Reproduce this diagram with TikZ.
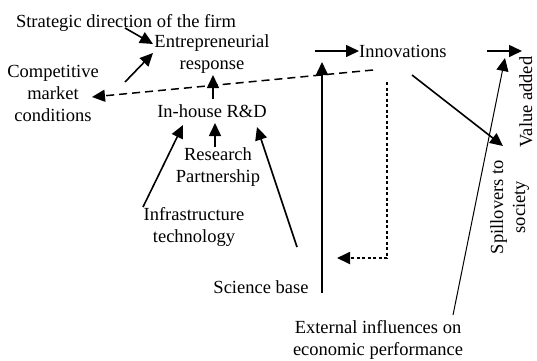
\documentclass[tikz,border=0pt]{standalone}
\usepackage{fontspec}
\setmainfont{Liberation Serif}
\usetikzlibrary{arrows.meta}
\begin{document}
\begin{tikzpicture}[x=1pt,y=-1pt,
  lbl/.style={inner sep=0pt, font=\fontsize{18.5}{22}\selectfont, anchor=base, align=center},
  arr/.style={line width=1.6pt, -{Triangle[length=13pt,width=12pt]}},
  thin/.style={line width=1pt, -{Triangle[length=13pt,width=12pt]}}]
\useasboundingbox (0,0) rectangle (537,360);
% text nodes (anchor = base of last line)
\node[lbl] (strat) at (126,27) {Strategic direction of the firm};
\node[lbl] (entre) at (212,69) {Entrepreneurial\\response};
\node[lbl] (comp) at (53,121) {Competitive\\market\\conditions};
\node[lbl] (inh) at (212,117) {In-house R\&D};
\node[lbl] (rp) at (218,182) {Research\\Partnership};
\node[lbl] (infra) at (194,242) {Infrastructure\\technology};
\node[lbl] (sci) at (261,293) {Science base};
\node[lbl, anchor=base west] (innov) at (359,57) {Innovations};
\node[lbl] (ext) at (378,355) {External influences on\\economic performance};
\node[lbl, rotate=90, anchor=base] (val) at (532,102) {Value added};
\node[lbl, rotate=90, anchor=base] (spill) at (525,207) {Spillovers to\\society};
% connectors
\coordinate (s1) at (125,28);
\coordinate (e1) at (153,44);
\draw[arr] (s1) -- (e1);
\coordinate (c1) at (125,82);
\coordinate (e2) at (153,53);
\draw[arr] (c1) -- (e2);
\coordinate (i1) at (373,70);
\coordinate (c2) at (92,97);
\draw[line width=1.5pt, dash pattern=on 8pt off 5pt, -{Triangle[length=13pt,width=12pt]}] (i1) -- (c2);
\coordinate (h1) at (213,99);
\coordinate (e3) at (213,75);
\draw[arr] (h1) -- (e3);
\coordinate (r1) at (215,147);
\coordinate (h2) at (215,123);
\draw[arr] (r1) -- (h2);
\coordinate (f1) at (143,207);
\coordinate (h3) at (183,125);
\draw[arr] (f1) -- (h3);
\coordinate (b1) at (297,247);
\coordinate (h4) at (257,127);
\draw[arr] (b1) -- (h4);
\coordinate (v0) at (322,293);
\coordinate (v1) at (322,62);
\draw[arr] (v0) -- (v1);
\coordinate (n0) at (315,51);
\draw[arr] (n0) -- (innov.west |- n0);
\coordinate (d0) at (387,82);
\coordinate (d1) at (387,258);
\coordinate (d2) at (337,258);
\draw[line width=1.8pt, dash pattern=on 3pt off 2.5pt, -{Triangle[length=13pt,width=12pt]}] (d0) -- (d1) -- (d2);
\coordinate (o0) at (412,75);
\coordinate (o1) at (503,146);
\draw[arr] (o0) -- (o1);
\coordinate (x0) at (453,315);
\coordinate (x1) at (505,58);
\draw[thin] (x0) -- (x1);
\coordinate (w0) at (487,51);
\coordinate (w1) at (522,51);
\draw[arr] (w0) -- (w1);
\end{tikzpicture}
\end{document}
